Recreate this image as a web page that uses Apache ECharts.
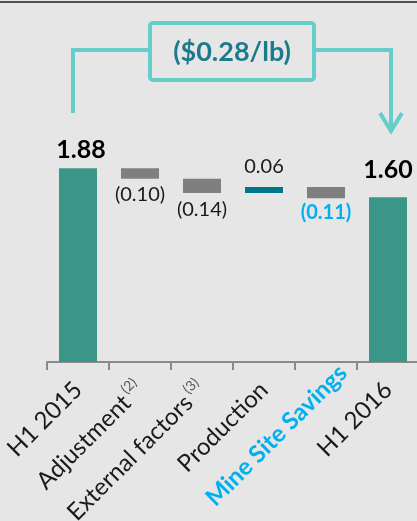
<!DOCTYPE html>
<html>
<head>
<meta charset="utf-8">
<script src="https://cdn.jsdelivr.net/npm/echarts@6/dist/echarts.min.js"></script>
<style>
  html, body { margin: 0; padding: 0; background: #e6e6e6; }
  #chart_box { width: 417px; height: 521px; }
</style>
</head>
<body>
<div id="chart_box"></div>
<script>
// categories and the step values of the bridge (totals are absolute)
const categories = ['H1 2015', 'Adjustment', 'External factors', 'Production', 'Mine Site Savings', 'H1 2016'];
const changes = [1.88, -0.10, -0.14, 0.06, -0.11, 1.60];
const isTotal = [true, false, false, false, false, true];
const notes = ['', '(2)', '(3)', '', '', ''];
const bridgeLabel = '($0.28/lb)';

const TEAL = '#3b9688';
const GREY = '#7f7f7f';
const DARK_TEAL = '#00768a';
const BLUE = '#00b0f0';
const LINE = '#66cdc9';
const FONT = 'Lato';

// build base (invisible) + visible parts
let running = 0;
let baseData = [];
let barData = [];
changes.forEach((v, i) => {
  let base, h;
  if (isTotal[i]) {
    base = 0; h = v; running = v;
  } else if (v < 0) {
    base = +(running + v).toFixed(2); h = -v; running = base;
  } else {
    base = running; h = v; running = +(running + v).toFixed(2);
  }
  baseData.push(base);

  let color = isTotal[i] ? TEAL : (v > 0 ? DARK_TEAL : GREY);
  let txt = isTotal[i] ? v.toFixed(2) : (v < 0 ? '(' + (-v).toFixed(2) + ')' : v.toFixed(2));
  let label = {
    show: true,
    formatter: txt,
    position: (isTotal[i] || v > 0) ? 'top' : 'bottom',
    fontFamily: FONT,
    fontSize: 20,
    color: '#1a1a1a',
    distance: 6
  };
  if (isTotal[i]) {
    label.fontSize = 25;
    label.fontWeight = 'bold';
    label.color = '#000';
    label.distance = i === 0 ? 6 : 15;
    if (i === 0) label.offset = [3, 0];
  }
  if (!isTotal[i] && v > 0) label.distance = 10;
  if (categories[i] === 'Mine Site Savings') {
    label.color = BLUE;
    label.fontWeight = 'bold';
    label.distance = 4;
  }
  barData.push({ value: h, itemStyle: { color: color }, label: label });
});

const myChart = echarts.init(document.getElementById('chart_box'));
myChart.setOption({
  backgroundColor: '#e6e6e6',
  animation: false,
  grid: { left: 47, width: 372, top: 156, height: 206, outerBoundsMode: 'none' },
  xAxis: {
    type: 'category',
    data: categories,
    axisLine: { lineStyle: { color: '#8a8a8a', width: 2 } },
    axisTick: { show: true, length: 8, lineStyle: { color: '#8a8a8a', width: 2 } },
    axisLabel: {
      interval: 0,
      rotate: 45,
      margin: 24,
      fontFamily: FONT,
      fontSize: 24,
      color: '#1a1a1a',
      formatter: function (val, idx) {
        if (val === 'Mine Site Savings') return '{b|' + val + '}';
        if (notes[idx]) return '{n|' + val + '}{sup|' + notes[idx] + '}';
        return val;
      },
      rich: {
        n: { fontFamily: FONT, fontSize: 24, color: '#1a1a1a' },
        sup: { fontFamily: FONT, fontSize: 14, color: '#595959', verticalAlign: 'top', padding: [0, 0, 16, 3] },
        b: { fontFamily: FONT, fontSize: 24, fontWeight: 'bold', color: BLUE, padding: [0, -24, 0, 0] }
      }
    }
  },
  yAxis: { type: 'value', min: 0, max: 2, show: false, splitLine: { show: false } },
  series: [
    {
      type: 'bar', stack: 'bridge', barWidth: 38,
      itemStyle: { color: 'transparent' },
      silent: true,
      data: baseData
    },
    {
      type: 'bar', stack: 'bridge', barWidth: 38,
      data: barData
    }
  ]
});

// bridge bracket drawn from the first and last bars
const p0 = myChart.convertToPixel({ seriesIndex: 1 }, [0, changes[0]]);
const p5 = myChart.convertToPixel({ seriesIndex: 1 }, [5, changes[5]]);
const xL = p0[0] - 5, xR = p5[0] + 3;
const yTop = 50;
const boxL = 150, boxR = 314, boxT = 23, boxB = 80;
myChart.setOption({
  graphic: [
    { type: 'line', shape: { x1: 0, y1: 2, x2: 417, y2: 2 }, style: { stroke: '#505050', lineWidth: 2 } },
    { type: 'polyline', shape: { points: [[xL, 113], [xL, yTop], [boxL, yTop]] }, style: { stroke: LINE, lineWidth: 4, fill: null } },
    { type: 'polyline', shape: { points: [[boxR, yTop], [xR, yTop], [xR, 131]] }, style: { stroke: LINE, lineWidth: 4, fill: null } },
    { type: 'polyline', shape: { points: [[xR - 11, 113], [xR, 131], [xR + 11, 113]] }, style: { stroke: LINE, lineWidth: 4, fill: null, lineJoin: 'miter' } },
    { type: 'rect', shape: { x: boxL, y: boxT, width: boxR - boxL, height: boxB - boxT, r: 3 }, style: { stroke: LINE, lineWidth: 4, fill: '#e6e6e6' } },
    { type: 'text', x: (boxL + boxR) / 2, y: (boxT + boxB) / 2 + 1, style: { text: bridgeLabel, fontFamily: FONT, fontSize: 27, fontWeight: 'bold', fill: '#1b7b8c', align: 'center', verticalAlign: 'middle' } }
  ]
});
</script>
</body>
</html>
